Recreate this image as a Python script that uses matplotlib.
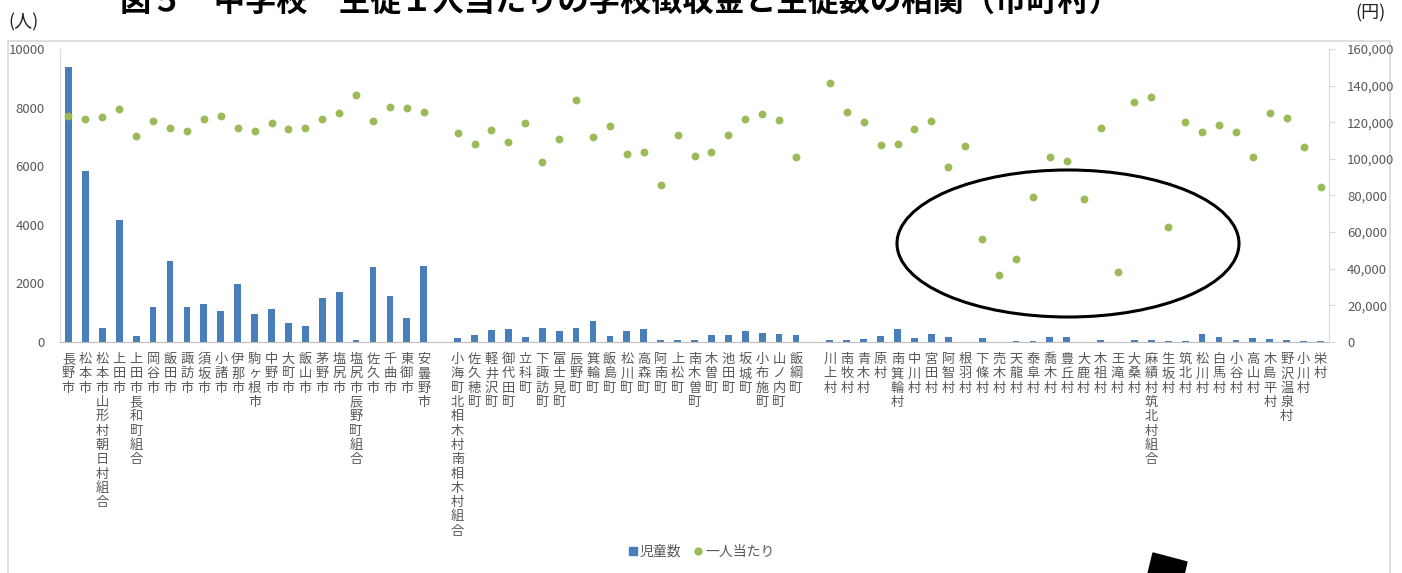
import numpy as np
import matplotlib.pyplot as plt
from matplotlib.lines import Line2D
from matplotlib.patches import Ellipse, Rectangle, Polygon

plt.rcParams['font.family'] = ['Noto Sans CJK JP', 'DejaVu Sans']

# municipalities, grouped as cities / towns / villages
cities = ["長野市", "松本市", "松本市山形村朝日村組合", "上田市", "上田市長和町組合", "岡谷市",
          "飯田市", "諏訪市", "須坂市", "小諸市", "伊那市", "駒ヶ根市", "中野市", "大町市",
          "飯山市", "茅野市", "塩尻市", "塩尻市辰野町組合", "佐久市", "千曲市", "東御市", "安曇野市"]
towns = ["小海町北相木村南相木村組合", "佐久穂町", "軽井沢町", "御代田町", "立科町", "下諏訪町",
         "富士見町", "辰野町", "箕輪町", "飯島町", "松川町", "高森町", "阿南町", "上松町",
         "南木曽町", "木曽町", "池田町", "坂城町", "小布施町", "山ノ内町", "飯綱町"]
villages = ["川上村", "南牧村", "青木村", "原村", "南箕輪村", "中川村", "宮田村", "阿智村",
            "根羽村", "下條村", "売木村", "天龍村", "泰阜村", "喬木村", "豊丘村", "大鹿村",
            "木祖村", "王滝村", "大桑村", "麻績村筑北村組合", "生坂村", "筑北村", "松川村",
            "白馬村", "小谷村", "高山村", "木島平村", "野沢温泉村", "小川村", "栄村"]

# number of students
city_students = [9400, 5840, 470, 4160, 215, 1185, 2765, 1205, 1285, 1060, 1970, 955,
                 1140, 650, 545, 1490, 1695, 55, 2560, 1580, 810, 2585]
town_students = [135, 240, 400, 445, 160, 465, 365, 465, 705, 205, 365, 445, 80, 80,
                 80, 230, 230, 365, 320, 275, 230]
village_students = [70, 70, 90, 195, 455, 125, 275, 170, 10, 125, 10, 20, 30, 170, 170,
                    10, 60, 10, 70, 60, 30, 50, 260, 170, 60, 150, 110, 60, 30, 25]

# school fees per student (yen)
city_cost = [123600, 121600, 122700, 127200, 112500, 120850, 116700, 115400, 121950,
             123250, 117000, 115400, 119600, 116300, 116700, 121600, 124900, 135050,
             120500, 128150, 127800, 125800]
town_cost = [114300, 108100, 115900, 109200, 119600, 98300, 110700, 132000, 111800,
             118000, 102500, 103600, 85700, 113000, 101600, 103600, 113000, 121950,
             124500, 121200, 101200]
village_cost = [141300, 125800, 120300, 107750, 108100, 116400, 120500, 95560, 106850,
                56400, 36750, 45300, 79350, 100850, 99000, 78100, 117000, 38050, 131200,
                133800, 62960, 120300, 114500, 118300, 114500, 101200, 124900, 122300,
                106500, 84640]

names = cities + [""] + towns + [""] + villages
students = np.array(city_students + [np.nan] + town_students + [np.nan] + village_students, dtype=float)
cost = np.array(city_cost + [np.nan] + town_cost + [np.nan] + village_cost, dtype=float)

BAR = "#4a7ebb"
DOT = "#9bbb59"
GRAY = "#595959"
LINE = "#d9d9d9"

W, H = 1402, 573


def fx(px):
    return px / W


def fy(py):
    return 1 - py / H


fig = plt.figure(figsize=(W / 100, H / 100), dpi=100)
fig.add_artist(Rectangle((fx(8), fy(640)), fx(1390) - fx(8), fy(41) - fy(640),
                         transform=fig.transFigure, fill=False, ec=LINE, lw=1.2, zorder=0))

ax = fig.add_axes([fx(60), fy(342), fx(1329) - fx(60), fy(49) - fy(342)])
ax2 = ax.twinx()

x = np.arange(len(names))
ax.bar(x, students, width=0.4, color=BAR)
ax2.scatter(x, cost, s=32, color=DOT, zorder=3, linewidths=0)

ax.set_xlim(-0.5, len(names) - 0.5)
ax.set_ylim(0, 10000)
ax.set_yticks(range(0, 10001, 2000))
ax2.set_ylim(0, 160000)
ax2.set_yticks(range(0, 160001, 20000))
ax2.set_yticklabels([f"{v:,}" for v in range(0, 160001, 20000)])

ax.set_xticks(x)
ax.set_xticklabels(["\n".join(n) for n in names], linespacing=1.13, va="top")
ax.tick_params(axis="x", length=0, pad=8, labelsize=9.5, labelcolor=GRAY)
ax.tick_params(axis="y", length=0, pad=11, labelsize=9.5, labelcolor=GRAY)
ax2.tick_params(axis="y", length=4, color=LINE, pad=9, labelsize=9.5, labelcolor=GRAY)

for a in (ax, ax2):
    for s in a.spines.values():
        s.set_visible(False)
ax.spines["left"].set_visible(True)
ax.spines["left"].set_color(LINE)
ax.spines["bottom"].set_visible(True)
ax.spines["bottom"].set_color("#bfbfbf")
ax2.spines["right"].set_visible(True)
ax2.spines["right"].set_color(LINE)

fig.text(fx(120), fy(11), "図５　中学校　生徒１人当たりの学校徴収金と生徒数の相関（市町村）",
         fontsize=22.5, fontweight="bold", va="baseline", ha="left", color="black")
fig.text(fx(8), fy(22), "(人)", fontsize=13, va="center", ha="left", color="#222222")
fig.text(fx(1386), fy(13), "(円)", fontsize=13, va="center", ha="right", color="#222222")

handles = [Line2D([], [], marker="s", ls="", color=BAR, ms=6),
           Line2D([], [], marker="o", ls="", color=DOT, ms=5)]
fig.legend(handles, ["児童数", "一人当たり"], loc="center", bbox_to_anchor=(fx(701), fy(552)),
           ncol=2, frameon=False, fontsize=10, handletextpad=0.1, columnspacing=0.8,
           handlelength=0.8, labelcolor=GRAY)

# circled outliers and the arrow coming up from below
fig.add_artist(Ellipse((fx(1068), fy(243.5)), width=342 / W, height=147 / H,
                       transform=fig.transFigure, fill=False, ec="black", lw=2.2))
fig.add_artist(Polygon([(fx(1153), fy(553)), (fx(1187), fy(562)), (fx(1179), fy(595)),
                        (fx(1145), fy(586))], closed=True, transform=fig.transFigure,
                       color="black"))

fig.savefig("out.png", dpi=100)
